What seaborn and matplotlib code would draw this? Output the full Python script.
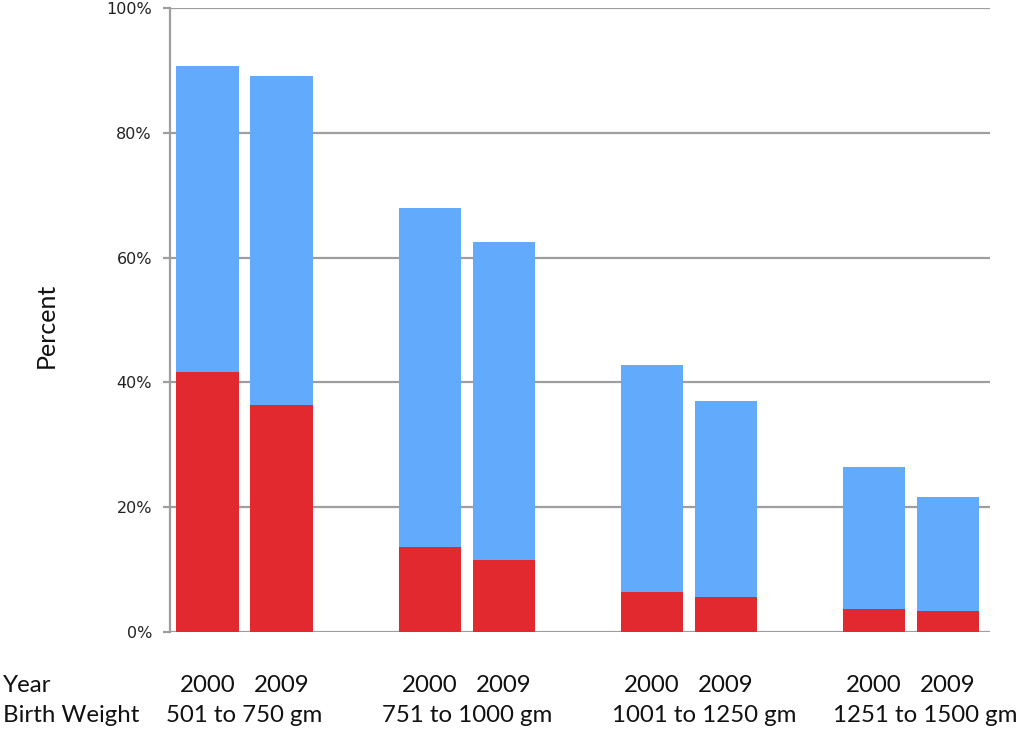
import matplotlib
matplotlib.use("Agg")
import matplotlib.pyplot as plt
import matplotlib.transforms as mtransforms
import seaborn as sns
import pandas as pd
import numpy as np

# ---- data ----
groups = ["501 to 750 gm", "751 to 1000 gm", "1001 to 1250 gm", "1251 to 1500 gm"]
years = ["2000", "2009"]
total_pct = [90.7, 89.1, 67.9, 62.5, 42.8, 37.0, 26.4, 21.6]   # blue (top of stacked bar)
red_pct = [41.7, 36.4, 13.6, 11.5, 6.4, 5.6, 3.7, 3.4]          # red (bottom segment)
y_ticks = [0, 20, 40, 60, 80, 100]
y_tick_labels = ["0%", "20%", "40%", "60%", "80%", "100%"]

# layout: small horizontal nudges of the group labels (in bar units)
group_label_nudge = [0.0, 0.0, 0.21, 0.19]

# positions: two bars per group, gap between groups
pos = []
for gi in range(len(groups)):
    for yi in range(len(years)):
        pos.append(gi * 3 + yi)
df = pd.DataFrame({
    "pos": pos,
    "total": total_pct,
    "red": red_pct,
    "year": years * len(groups),
})

sns.set_style("white")
fig = plt.figure(figsize=(10.24, 7.33), dpi=100)
ax = fig.add_axes([170 / 1024, 1 - 632 / 733, 820 / 1024, 624 / 733])

blue = "#62AAFB"
red = "#E2292F"
grid_c = "#9E9E9E"

for y in y_ticks:
    ax.axhline(y, color=grid_c, lw=1.6, zorder=0)

sns.barplot(data=df, x="pos", y="total", native_scale=True, color=blue,
            saturation=1, width=0.84, ax=ax, zorder=2, linewidth=0)
sns.barplot(data=df, x="pos", y="red", native_scale=True, color=red,
            saturation=1, width=0.84, ax=ax, zorder=3, linewidth=0)

ax.set_xlim(-0.507, 10.57)
ax.set_ylim(0, 100)
ax.set_yticks(y_ticks)
ax.set_yticklabels(y_tick_labels, fontsize=11.5, color="#222222", fontfamily="DejaVu Sans")
ax.tick_params(axis="y", length=5, width=1.6, color=grid_c, pad=8, left=True)
ax.set_xticks([])
ax.set_xlabel("")
ax.set_ylabel("")
for s in ["top", "right", "bottom"]:
    ax.spines[s].set_visible(False)
ax.spines["left"].set_color(grid_c)
ax.spines["left"].set_linewidth(1.6)

fig.text(46 / 1024, 1 - 325 / 733, "Percent", rotation=90, fontsize=18,
         fontfamily="Lato", va="center", ha="center", color="#111111")

trans = mtransforms.blended_transform_factory(ax.transData, fig.transFigure)
lab_font = dict(fontsize=17.3, fontfamily="Lato", color="#111111", va="center")
y_year = 1 - 686 / 733
y_bw = 1 - 716 / 733
fig.text(3 / 1024, y_year, "Year", ha="left", **lab_font)
fig.text(3 / 1024, y_bw, "Birth Weight", ha="left", **lab_font)
for p, yr in zip(df["pos"], df["year"]):
    ax.text(p, y_year, yr, transform=trans, ha="center", **lab_font)
for gi, g in enumerate(groups):
    ax.text(gi * 3 + 0.5 + group_label_nudge[gi], y_bw, g, transform=trans,
            ha="center", **lab_font)

fig.savefig("out.png", dpi=100)
